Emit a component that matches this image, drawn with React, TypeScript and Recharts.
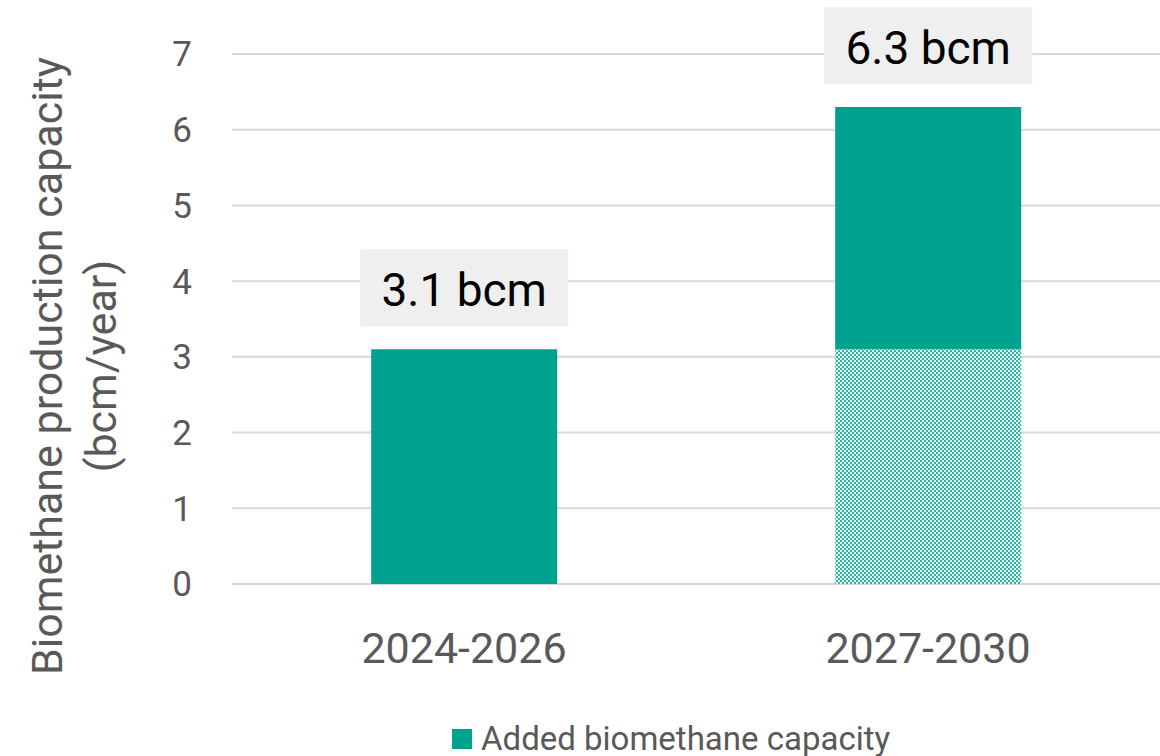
import { BarChart, Bar, XAxis, YAxis, CartesianGrid, LabelList } from 'recharts';

const periods = ['2024-2026', '2027-2030'];
const existingCapacity = [0, 3.1];
const addedCapacity = [3.1, 3.2];
const yTicks = [0, 1, 2, 3, 4, 5, 6, 7];

const TEAL = '#00A28F';
const GREY_TEXT = '#595959';
const FONT = 'Roboto, "Noto Sans", sans-serif';

const data = periods.map((period, i) => ({
    period,
    existing: existingCapacity[i],
    added: addedCapacity[i],
}));

// grey box with the stacked total above each column
function TotalLabel(props: any) {
    const { x, y, width, index } = props;
    const total = existingCapacity[index] + addedCapacity[index];
    const cx = x + width / 2;
    const boxW = 208;
    const boxH = 77;
    const boxBottom = y - 23;
    return (
        <g>
            <rect x={cx - boxW / 2} y={boxBottom - boxH} width={boxW} height={boxH} fill="#EFEFEF" />
            <text
                x={cx}
                y={boxBottom - boxH / 2 + 2}
                textAnchor="middle"
                dominantBaseline="central"
                fontSize={46}
                fontFamily={FONT}
                fill="#000"
            >
                {total.toFixed(1)} bcm
            </text>
        </g>
    );
}

function AxisTitle() {
    return (
        <g fontFamily={FONT} fontSize={43} fill={GREY_TEXT}>
            <text x={47} y={366} transform="rotate(-90 47 366)" textAnchor="middle" dominantBaseline="central">
                Biomethane production capacity
            </text>
            <text x={101} y={366} transform="rotate(-90 101 366)" textAnchor="middle" dominantBaseline="central">
                (bcm/year)
            </text>
        </g>
    );
}

export default function App() {
    return (
        <div style={{ position: 'absolute', left: 0, top: 0, width: 1160, height: 756, background: '#fff' }}>
            <BarChart
                width={1160}
                height={756}
                data={data}
                margin={{ top: 54, right: 0, bottom: 0, left: 0 }}
                barCategoryGap="30%"
            >
                <defs>
                    <pattern id="checker" width={4} height={4} patternUnits="userSpaceOnUse">
                        <rect width={4} height={4} fill="#e4f5f2" />
                        <rect x={0} y={0} width={2} height={2} fill="#2fb2a2" />
                        <rect x={2} y={2} width={2} height={2} fill="#2fb2a2" />
                    </pattern>
                </defs>
                <CartesianGrid vertical={false} stroke="#D9D9D9" strokeWidth={2} />
                <XAxis
                    dataKey="period"
                    height={172}
                    axisLine={false}
                    tickLine={false}
                    tickSize={0}
                    tickMargin={48}
                    tick={{ fontSize: 43, fill: GREY_TEXT, fontFamily: FONT }}
                />
                <YAxis
                    width={232}
                    domain={[0, 7]}
                    ticks={yTicks}
                    axisLine={false}
                    tickLine={false}
                    tickSize={0}
                    tickMargin={40}
                    tick={{ fontSize: 35, fill: GREY_TEXT, fontFamily: FONT }}
                    label={{ content: () => <AxisTitle /> }}
                />
                <Bar dataKey="existing" stackId="cap" fill="url(#checker)" isAnimationActive={false} />
                <Bar dataKey="added" stackId="cap" fill={TEAL} isAnimationActive={false}>
                    <LabelList dataKey="added" content={<TotalLabel />} />
                </Bar>
            </BarChart>
            <div
                style={{
                    position: 'absolute',
                    left: 452,
                    top: 722,
                    display: 'flex',
                    alignItems: 'center',
                    fontFamily: FONT,
                    fontSize: 33,
                    color: GREY_TEXT,
                    lineHeight: '34px',
                    whiteSpace: 'nowrap',
                }}
            >
                <span style={{ width: 20, height: 20, background: TEAL, marginRight: 9, display: 'inline-block' }} />
                Added biomethane capacity
            </div>
        </div>
    );
}
